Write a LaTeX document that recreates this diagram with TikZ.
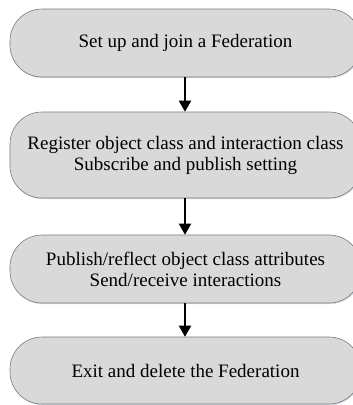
\documentclass[tikz,border=0pt]{standalone}
\usepackage{fontspec}
\setmainfont{Liberation Serif}
\usetikzlibrary{arrows.meta,shadows}
\definecolor{boxfill}{HTML}{D9D9D9}
\definecolor{boxline}{HTML}{7A7A7A}
\definecolor{shade}{HTML}{B8C4D4}
\begin{document}
\begin{tikzpicture}[x=1pt,y=-1pt,
  stage/.style={draw=boxline, line width=0.6pt, fill=boxfill,
    rounded corners=32pt, minimum width=351pt, inner sep=0pt,
    align=center, font=\fontsize{19}{21}\selectfont,
    drop shadow={shadow xshift=0.8pt, shadow yshift=-1.2pt, fill=shade, opacity=0.6}},
  flow/.style={line width=2pt, -{Triangle[length=11pt,width=12pt]}}]
\useasboundingbox (0,0) rectangle (353,405);
\clip (0,0) rectangle (353,405);
\node[stage, minimum height=68pt] (s1) at (185.5,43) {Set up and join a Federation};
\node[stage, minimum height=86pt] (s2) at (185.5,155) {Register object class and interaction class\\Subscribe and publish setting};
\node[stage, minimum height=68pt] (s3) at (185.5,269) {Publish/reflect object class attributes\\Send/receive interactions};
\node[stage, minimum height=67pt] (s4) at (185.5,370.5) {Exit and delete the Federation};
\draw[flow] (s1.south -| 185,0) -- (s2.north -| 185,0);
\draw[flow] (s2.south -| 185,0) -- (s3.north -| 185,0);
\draw[flow] (s3.south -| 185,0) -- (s4.north -| 185,0);
\end{tikzpicture}
\end{document}
